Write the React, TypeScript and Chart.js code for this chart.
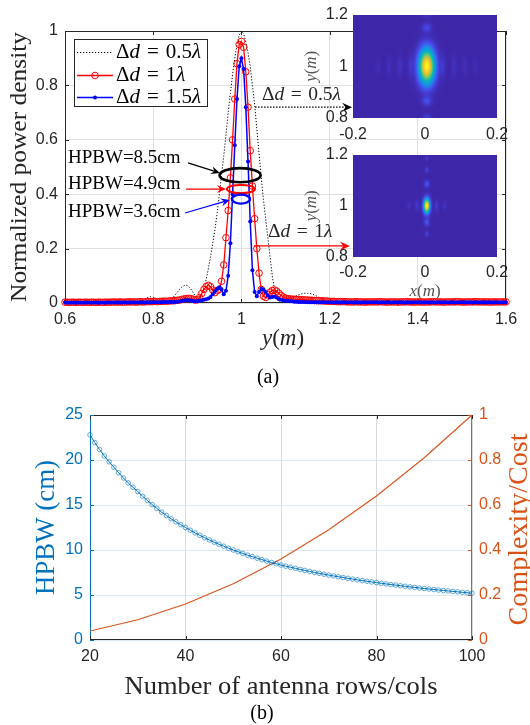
import { useEffect, useRef } from "react";
import { Chart, registerables } from "chart.js";

Chart.register(...registerables);

const SERIF = '"Liberation Serif","Times New Roman",Times,serif';
const SANS = '"Liberation Sans",Arial,Helvetica,sans-serif';
const INK = "#262626";
const BLUE_B = "rgb(0,114,189)";
const ORANGE_B = "rgb(217,83,25)";

// ---------------- (a) normalized power density vs y (m) ----------------
const yGrid: number[] = Array.from({ length: 201 }, (_, i) => Math.round((0.6 + i * 0.005) * 1000) / 1000);

const power05: number[] = [
  0.003, 0.002, 0.003, 0.004, 0.003, 0.002, 0.003, 0.004, 0.003, 0.002,
  0.003, 0.004, 0.003, 0.002, 0.004, 0.005, 0.004, 0.003, 0.004, 0.005,
  0.004, 0.003, 0.005, 0.006, 0.005, 0.003, 0.004, 0.006, 0.007, 0.005,
  0.004, 0.005, 0.006, 0.005, 0.004, 0.008, 0.013, 0.018, 0.022, 0.023,
  0.021, 0.016, 0.010, 0.005, 0.003, 0.002, 0.003, 0.006, 0.012, 0.020,
  0.030, 0.040, 0.050, 0.058, 0.064, 0.066, 0.062, 0.052, 0.040, 0.027,
  0.016, 0.014, 0.028, 0.050, 0.085, 0.125, 0.170, 0.220, 0.270, 0.330,
  0.400, 0.470, 0.540, 0.620, 0.700, 0.770, 0.840, 0.900, 0.950, 0.985,
  1.000, 0.990, 0.960, 0.920, 0.870, 0.800, 0.730, 0.640, 0.550, 0.460,
  0.380, 0.310, 0.240, 0.170, 0.100, 0.050, 0.015, 0.004, 0.003, 0.006,
  0.009, 0.012, 0.015, 0.019, 0.023, 0.027, 0.030, 0.033, 0.035, 0.036,
  0.036, 0.035, 0.033, 0.030, 0.026, 0.022, 0.018, 0.014, 0.010, 0.007,
  0.005, 0.004, 0.003, 0.003, 0.004, 0.005, 0.006, 0.006, 0.005, 0.004,
  0.003, 0.003, 0.004, 0.004, 0.003, 0.003, 0.003, 0.004, 0.004, 0.003,
  0.003, 0.002, 0.003, 0.003, 0.002, 0.003, 0.003, 0.002, 0.003, 0.003,
  0.003, 0.003, 0.002, 0.003, 0.003, 0.002, 0.003, 0.003, 0.002, 0.003,
  0.003, 0.002, 0.003, 0.003, 0.002, 0.003, 0.003, 0.002, 0.003, 0.003,
  0.003, 0.003, 0.002, 0.003, 0.003, 0.002, 0.003, 0.003, 0.002, 0.003,
  0.003, 0.002, 0.003, 0.003, 0.002, 0.003, 0.003, 0.002, 0.003, 0.003,
  0.003, 0.003, 0.002, 0.003, 0.003, 0.002, 0.003, 0.003, 0.002, 0.003,
  0.003,
];

const power10: number[] = [
  0.003, 0.003, 0.002, 0.003, 0.003, 0.002, 0.003, 0.003, 0.002, 0.003,
  0.003, 0.002, 0.003, 0.003, 0.002, 0.003, 0.003, 0.002, 0.003, 0.003,
  0.003, 0.003, 0.004, 0.003, 0.003, 0.004, 0.003, 0.003, 0.004, 0.004,
  0.004, 0.004, 0.003, 0.004, 0.005, 0.004, 0.004, 0.005, 0.005, 0.005,
  0.005, 0.006, 0.005, 0.006, 0.006, 0.007, 0.006, 0.007, 0.008, 0.008,
  0.009, 0.010, 0.011, 0.013, 0.015, 0.016, 0.017, 0.016, 0.014, 0.011,
  0.012, 0.020, 0.035, 0.050, 0.060, 0.065, 0.060, 0.048, 0.038, 0.045,
  0.050, 0.080, 0.140, 0.240, 0.340, 0.460, 0.600, 0.750, 0.880, 0.950,
  0.962, 0.940, 0.850, 0.720, 0.560, 0.430, 0.310, 0.200, 0.110, 0.050,
  0.025, 0.020, 0.030, 0.040, 0.046, 0.048, 0.044, 0.036, 0.028, 0.022,
  0.018, 0.016, 0.015, 0.014, 0.014, 0.013, 0.013, 0.012, 0.012, 0.011,
  0.011, 0.010, 0.010, 0.009, 0.009, 0.008, 0.008, 0.008, 0.007, 0.007,
  0.006, 0.006, 0.006, 0.005, 0.005, 0.005, 0.005, 0.005, 0.004, 0.004,
  0.004, 0.004, 0.005, 0.004, 0.004, 0.004, 0.003, 0.004, 0.004, 0.004,
  0.004, 0.004, 0.004, 0.005, 0.004, 0.004, 0.003, 0.004, 0.004, 0.004,
  0.004, 0.003, 0.004, 0.004, 0.004, 0.005, 0.004, 0.004, 0.003, 0.004,
  0.004, 0.004, 0.004, 0.003, 0.004, 0.004, 0.004, 0.005, 0.004, 0.004,
  0.004, 0.004, 0.003, 0.004, 0.004, 0.004, 0.004, 0.004, 0.005, 0.004,
  0.004, 0.003, 0.004, 0.004, 0.004, 0.004, 0.005, 0.004, 0.004, 0.004,
  0.004, 0.004, 0.004, 0.003, 0.004, 0.004, 0.004, 0.004, 0.004, 0.004,
  0.004,
];

const power15: number[] = [
  0.002, 0.002, 0.001, 0.002, 0.002, 0.001, 0.002, 0.002, 0.001, 0.002,
  0.002, 0.002, 0.001, 0.002, 0.002, 0.001, 0.002, 0.002, 0.001, 0.002,
  0.002, 0.002, 0.002, 0.002, 0.002, 0.002, 0.002, 0.003, 0.002, 0.002,
  0.002, 0.003, 0.002, 0.002, 0.003, 0.003, 0.002, 0.003, 0.003, 0.003,
  0.003, 0.003, 0.003, 0.003, 0.003, 0.004, 0.004, 0.004, 0.004, 0.004,
  0.004, 0.005, 0.006, 0.007, 0.009, 0.010, 0.010, 0.009, 0.007, 0.006,
  0.006, 0.008, 0.010, 0.012, 0.014, 0.017, 0.022, 0.032, 0.043, 0.052,
  0.058, 0.050, 0.032, 0.045, 0.100, 0.220, 0.400, 0.580, 0.750, 0.870,
  0.900, 0.860, 0.720, 0.520, 0.300, 0.120, 0.040, 0.025, 0.040, 0.052,
  0.050, 0.040, 0.028, 0.020, 0.022, 0.024, 0.020, 0.015, 0.012, 0.010,
  0.008, 0.007, 0.006, 0.006, 0.005, 0.005, 0.004, 0.004, 0.004, 0.004,
  0.003, 0.003, 0.003, 0.003, 0.003, 0.003, 0.003, 0.003, 0.003, 0.003,
  0.003, 0.003, 0.002, 0.003, 0.003, 0.002, 0.003, 0.003, 0.002, 0.003,
  0.003, 0.002, 0.003, 0.003, 0.002, 0.003, 0.003, 0.002, 0.003, 0.003,
  0.003, 0.003, 0.002, 0.003, 0.003, 0.002, 0.003, 0.003, 0.002, 0.003,
  0.003, 0.002, 0.003, 0.003, 0.002, 0.003, 0.003, 0.002, 0.003, 0.003,
  0.003, 0.003, 0.002, 0.003, 0.003, 0.002, 0.003, 0.003, 0.002, 0.003,
  0.003, 0.002, 0.003, 0.003, 0.002, 0.003, 0.003, 0.002, 0.003, 0.003,
  0.003, 0.003, 0.002, 0.003, 0.003, 0.002, 0.003, 0.003, 0.002, 0.003,
  0.003, 0.002, 0.003, 0.003, 0.002, 0.003, 0.003, 0.002, 0.003, 0.003,
  0.002,
];

const spacingLabels: string[] = ["0.5", "1", "1.5"];
const xTicksA: number[] = [0.6, 0.8, 1, 1.2, 1.4, 1.6];
const yTicksA: number[] = [0, 0.2, 0.4, 0.6, 0.8, 1];

// ---------------- inset beam-spot lobes (x, y in m) ----------------
const beam05X: number[] = [0.005, 0.005, 0.005, 0.005, 0.005, -0.04, 0.05, -0.07, 0.08, -0.1, 0.11, -0.13, 0.14];
const beam05Y: number[] = [1.0, 1.15, 0.865, 0.8, 1.2, 1.0, 1.0, 1.0, 1.0, 1.0, 1.0, 1.0, 1.0];
const beam05SX: number[] = [0.015, 0.009, 0.009, 0.008, 0.008, 0.005, 0.005, 0.005, 0.005, 0.005, 0.005, 0.005, 0.005];
const beam05SY: number[] = [0.045, 0.012, 0.012, 0.01, 0.008, 0.03, 0.03, 0.028, 0.028, 0.025, 0.025, 0.022, 0.022];
const beam05Amp: number[] = [1.0, 0.1, 0.11, 0.08, 0.05, 0.05, 0.05, 0.04, 0.04, 0.03, 0.03, 0.022, 0.022];

const beam10X: number[] = [0.005, 0.005, 0.005, 0.005, 0.005, 0.005, -0.022, 0.032, -0.045, 0.055];
const beam10Y: number[] = [1.0, 1.085, 0.935, 1.14, 0.89, 1.185, 1.0, 1.0, 1.0, 1.0];
const beam10SX: number[] = [0.006, 0.005, 0.005, 0.004, 0.004, 0.004, 0.004, 0.004, 0.004, 0.004];
const beam10SY: number[] = [0.019, 0.01, 0.01, 0.008, 0.008, 0.007, 0.015, 0.015, 0.012, 0.012];
const beam10Amp: number[] = [1.0, 0.13, 0.13, 0.08, 0.08, 0.05, 0.06, 0.06, 0.035, 0.035];

const insetXTicks: number[] = [-0.2, 0, 0.2];
const insetYTicks: number[] = [0.8, 1, 1.2];

// ---------------- (b) HPBW and complexity vs antenna rows/cols ----------------
const antennaN: number[] = Array.from({ length: 81 }, (_, i) => 20 + i);
const hpbwCm: number[] = [
  22.8, 21.94, 21.16, 20.45, 19.8, 19.2, 18.58, 18.0, 17.46, 16.97,
  16.5, 15.98, 15.5, 15.05, 14.62, 14.21, 13.83, 13.47, 13.13, 12.81,
  12.5, 12.2, 11.9, 11.63, 11.36, 11.11, 10.87, 10.64, 10.42, 10.2,
  10.0, 9.8, 9.62, 9.43, 9.26, 9.09, 8.93, 8.77, 8.62, 8.47,
  8.33, 8.2, 8.08, 7.96, 7.84, 7.73, 7.62, 7.51, 7.41, 7.31,
  7.21, 7.12, 7.03, 6.94, 6.85, 6.77, 6.68, 6.6, 6.53, 6.45,
  6.38, 6.3, 6.23, 6.16, 6.1, 6.03, 5.97, 5.9, 5.84, 5.78,
  5.72, 5.66, 5.61, 5.55, 5.5, 5.45, 5.4, 5.35, 5.3, 5.25,
  5.2,
];
const costN: number[] = [20, 30, 40, 50, 60, 70, 80, 90, 100];
const costValue: number[] = [0.04, 0.09, 0.16, 0.25, 0.36, 0.49, 0.64, 0.81, 1.0];
const xTicksB: number[] = [20, 40, 60, 80, 100];
const yTicksB: number[] = [0, 5, 10, 15, 20, 25];
const y1TicksB: number[] = [0, 0.2, 0.4, 0.6, 0.8, 1];

// ---------------- helpers ----------------
type Part = { t?: string; it?: boolean; gap?: number };

const fmt = (v: any) => String(Math.round(Number(v) * 100) / 100);
const tickSet = (vals: number[]) => (s: any) => {
  s.ticks = vals.map((v) => ({ value: v }));
};

function partFont(p: Part, size: number) {
  return `${p.it ? "italic " : ""}${size}px ${SERIF}`;
}

function drawParts(ctx: any, parts: Part[], x: number, y: number, size: number, color: string, opt: any = {}) {
  const align = opt.align || "left";
  const baseline = opt.baseline || "middle";
  ctx.save();
  ctx.translate(x, y);
  if (opt.rotate) ctx.rotate(-Math.PI / 2);
  const ws = parts.map((p) => {
    if (p.gap) return p.gap * size;
    ctx.font = partFont(p, size);
    return ctx.measureText(p.t).width;
  });
  const w = ws.reduce((a: number, b: number) => a + b, 0);
  if (opt.width) ctx.scale(opt.width / w, 1);
  let cx = align === "center" ? -w / 2 : align === "right" ? -w : 0;
  ctx.fillStyle = color;
  ctx.textBaseline = baseline;
  ctx.textAlign = "left";
  parts.forEach((p, i) => {
    if (!p.gap) {
      ctx.font = partFont(p, size);
      ctx.fillText(p.t, cx, 0);
    }
    cx += ws[i];
  });
  ctx.restore();
}

const mathParts = (v: string): Part[] => [
  { t: "Δ" },
  { t: "d", it: true },
  { gap: 0.33 },
  { t: "=" },
  { gap: 0.33 },
  { t: v },
  { t: "λ", it: true },
];

function arrow(ctx: any, x0: number, y0: number, x1: number, y1: number, color: string, lw: number, dash: number[] | null, head = 9, halfW = 4) {
  const ang = Math.atan2(y1 - y0, x1 - x0);
  const c = Math.cos(ang);
  const s = Math.sin(ang);
  const pt = (a: number, b: number) => [x1 + c * a - s * b, y1 + s * a + c * b];
  ctx.save();
  ctx.strokeStyle = color;
  ctx.lineWidth = lw;
  ctx.setLineDash(dash || []);
  ctx.beginPath();
  ctx.moveTo(x0, y0);
  const e = pt(-head * 0.6, 0);
  ctx.lineTo(e[0], e[1]);
  ctx.stroke();
  ctx.setLineDash([]);
  ctx.fillStyle = color;
  ctx.beginPath();
  ctx.moveTo(x1, y1);
  let p = pt(-head, halfW);
  ctx.lineTo(p[0], p[1]);
  p = pt(-head * 0.65, 0);
  ctx.lineTo(p[0], p[1]);
  p = pt(-head, -halfW);
  ctx.lineTo(p[0], p[1]);
  ctx.closePath();
  ctx.fill();
  ctx.restore();
}

const hpbwNotes = [
  { text: "HPBW=8.5cm", color: "#000000", at: [0.6068, 0.533], from: [0.879, 0.515], to: [0.9515, 0.478], ring: [0.997, 0.47, 0.0465, 0.026], ringW: 2.6 },
  { text: "HPBW=4.9cm", color: "#ff0000", at: [0.6068, 0.4375], from: [0.8744, 0.419], to: [0.965, 0.419], ring: [0.999, 0.419, 0.032, 0.015], ringW: 2 },
  { text: "HPBW=3.6cm", color: "#0000ff", at: [0.6068, 0.335], from: [0.872, 0.331], to: [0.974, 0.379], ring: [0.999, 0.382, 0.0205, 0.0165], ringW: 2.4 },
];

const lambdaNotes = [
  { val: "0.5", color: "#000000", at: [1.0467, 0.765], from: [1.031, 0.72], to: [1.251, 0.72], dash: [1.5, 1.5] },
  { val: "1", color: "#ff0000", at: [1.0603, 0.261], from: [1.0286, 0.21], to: [1.246, 0.21], dash: null },
];

function frame(ctx: any, a: any, colors: { top: string; bottom: string; left: string; right: string }) {
  const L = Math.round(a.left) + 0.5;
  const R = Math.round(a.right) - 0.5;
  const T = Math.round(a.top) + 0.5;
  const B = Math.round(a.bottom) - 0.5;
  ctx.save();
  ctx.lineWidth = 1;
  const seg = (c: string, x0: number, y0: number, x1: number, y1: number) => {
    ctx.strokeStyle = c;
    ctx.beginPath();
    ctx.moveTo(x0, y0);
    ctx.lineTo(x1, y1);
    ctx.stroke();
  };
  seg(colors.top, L - 0.5, T, R + 0.5, T);
  seg(colors.bottom, L - 0.5, B, R + 0.5, B);
  seg(colors.left, L, T, L, B);
  seg(colors.right, R, T, R, B);
  ctx.restore();
  return { L, R, T, B };
}

function inwardTicks(ctx: any, a: any, scale: any, vals: number[], horizontal: boolean, len: number, colorA: string, colorB: string) {
  ctx.save();
  ctx.lineWidth = 1;
  vals.forEach((v) => {
    const p = Math.round(scale.getPixelForValue(v)) + 0.5;
    if (horizontal) {
      ctx.strokeStyle = colorA;
      ctx.beginPath();
      ctx.moveTo(p, a.bottom);
      ctx.lineTo(p, a.bottom - len);
      ctx.stroke();
      ctx.strokeStyle = colorB;
      ctx.beginPath();
      ctx.moveTo(p, a.top);
      ctx.lineTo(p, a.top + len);
      ctx.stroke();
    } else {
      ctx.strokeStyle = colorA;
      ctx.beginPath();
      ctx.moveTo(a.left, p);
      ctx.lineTo(a.left + len, p);
      ctx.stroke();
      ctx.strokeStyle = colorB;
      ctx.beginPath();
      ctx.moveTo(a.right, p);
      ctx.lineTo(a.right - len, p);
      ctx.stroke();
    }
  });
  ctx.restore();
}

// ---------------- plugins ----------------
const decorA = {
  id: "decorA",
  beforeDatasetsDraw(chart: any) {
    const { ctx, chartArea: a, scales } = chart;
    frame(ctx, a, { top: INK, bottom: INK, left: INK, right: INK });
    inwardTicks(ctx, a, scales.x, xTicksA, true, 4, INK, INK);
    inwardTicks(ctx, a, scales.y, yTicksA, false, 4, INK, INK);
  },
  afterDatasetsDraw(chart: any) {
    const { ctx, chartArea: a, scales } = chart;
    const X = (v: number) => scales.x.getPixelForValue(v);
    const Y = (v: number) => scales.y.getPixelForValue(v);

    // HPBW annotations
    hpbwNotes.forEach((n) => {
      drawParts(ctx, [{ t: n.text }], X(n.at[0]), Y(n.at[1]), 19, "#000", { baseline: "middle" });
      arrow(ctx, X(n.from[0]), Y(n.from[1]), X(n.to[0]), Y(n.to[1]), n.color, 1.2, null, 9, 4);
      const cx = X(n.ring[0]);
      const cy = Y(n.ring[1]);
      const rx = Math.abs(X(n.ring[0] + n.ring[2]) - cx);
      const ry = Math.abs(Y(n.ring[1] + n.ring[3]) - cy);
      ctx.save();
      ctx.strokeStyle = n.color;
      ctx.lineWidth = n.ringW;
      ctx.beginPath();
      ctx.ellipse(cx, cy, rx, ry, 0, 0, Math.PI * 2);
      ctx.stroke();
      ctx.restore();
    });

    // spacing annotations pointing to insets
    lambdaNotes.forEach((n) => {
      drawParts(ctx, mathParts(n.val), X(n.at[0]), Y(n.at[1]), 19.5, INK, { baseline: "middle" });
      arrow(ctx, X(n.from[0]), Y(n.from[1]), X(n.to[0]), Y(n.to[1]), n.color, 1.1, n.dash, 10, 4.5);
    });

    // legend
    const L = a.left + 9;
    const T = a.top + 8;
    const W = 133;
    const H = 67;
    ctx.save();
    ctx.fillStyle = "#fff";
    ctx.fillRect(L, T, W, H);
    ctx.strokeStyle = INK;
    ctx.lineWidth = 1;
    ctx.strokeRect(Math.round(L) + 0.5, Math.round(T) + 0.5, W, H);
    const rows = [13, 36, 58];
    chart.data.datasets.forEach((ds: any, i: number) => {
      const yy = Math.round(T + rows[i]) + 0.5;
      ctx.strokeStyle = ds.borderColor;
      ctx.lineWidth = ds.borderWidth;
      ctx.setLineDash(ds.borderDash || []);
      ctx.beginPath();
      ctx.moveTo(L + 3, yy);
      ctx.lineTo(L + 39, yy);
      ctx.stroke();
      ctx.setLineDash([]);
      if (ds.pointRadius > 0) {
        ctx.beginPath();
        ctx.arc(L + 21, yy, ds.pointRadius, 0, Math.PI * 2);
        if (ds.pointBorderWidth > 0) {
          ctx.strokeStyle = ds.pointBorderColor;
          ctx.lineWidth = ds.pointBorderWidth;
          ctx.stroke();
        } else {
          ctx.fillStyle = ds.pointBackgroundColor;
          ctx.fill();
        }
      }
      drawParts(ctx, mathParts(ds.label), L + 42, yy, 21, "#000", { baseline: "middle" });
    });
    ctx.restore();
  },
  afterDraw(chart: any) {
    const { ctx, chartArea: a } = chart;
    drawParts(ctx, [{ t: "Normalized power density" }], 25.5, (a.top + a.bottom) / 2, 23, INK, {
      rotate: true,
      align: "center",
      baseline: "alphabetic",
      width: 270,
    });
    drawParts(ctx, [{ t: "y", it: true }, { t: "(" }, { t: "m", it: true }, { t: ")" }], 283, 345, 23, INK, {
      align: "center",
      baseline: "alphabetic",
    });
    drawParts(ctx, [{ t: "(a)" }], 268, 378, 20, "#000", { align: "center", baseline: "middle" });
  },
};

const PARULA: number[][] = [
  [62, 38, 168],
  [70, 75, 235],
  [35, 130, 235],
  [13, 160, 215],
  [8, 180, 188],
  [66, 195, 135],
  [140, 201, 92],
  [222, 189, 48],
  [253, 204, 48],
  [249, 251, 14],
];

function parula(v: number) {
  const t = Math.max(0, Math.min(1, v)) * (PARULA.length - 1);
  const i = Math.min(PARULA.length - 2, Math.floor(t));
  const f = t - i;
  return [0, 1, 2].map((k) => PARULA[i][k] + (PARULA[i + 1][k] - PARULA[i][k]) * f);
}

function heatPlugin(lx: number[], ly: number[], sx: number[], sy: number[], amp: number[], showX: boolean) {
  return {
    id: "heat",
    beforeDatasetsDraw(chart: any) {
      const { ctx, chartArea: a, scales } = chart;
      const L = Math.round(a.left);
      const T = Math.round(a.top);
      const W = Math.round(a.right) - L;
      const H = Math.round(a.bottom) - T;
      const img = ctx.createImageData(W, H);
      for (let j = 0; j < H; j++) {
        const yv = scales.y.getValueForPixel(T + j + 0.5);
        for (let i = 0; i < W; i++) {
          const xv = scales.x.getValueForPixel(L + i + 0.5);
          let v = 0;
          for (let k = 0; k < lx.length; k++) {
            const dx = (xv - lx[k]) / sx[k];
            const dy = (yv - ly[k]) / sy[k];
            v += amp[k] * Math.exp(-0.5 * (dx * dx + dy * dy));
          }
          const c = parula(v);
          const idx = (j * W + i) * 4;
          img.data[idx] = c[0];
          img.data[idx + 1] = c[1];
          img.data[idx + 2] = c[2];
          img.data[idx + 3] = 255;
        }
      }
      ctx.putImageData(img, L, T);
    },
    afterDraw(chart: any) {
      const { ctx, chartArea: a } = chart;
      drawParts(ctx, [{ t: "y", it: true }, { t: "(" }, { t: "m", it: true }, { t: ")" }], a.left - 41, (a.top + a.bottom) / 2, 17, "#555", {
        rotate: true,
        align: "center",
        baseline: "middle",
      });
      if (showX) {
        drawParts(ctx, [{ t: "x", it: true }, { t: "(" }, { t: "m", it: true }, { t: ")" }], (a.left + a.right) / 2, a.bottom + 35, 17, "#555", {
          align: "center",
          baseline: "middle",
        });
      }
    },
  };
}

const decorB = {
  id: "decorB",
  beforeDatasetsDraw(chart: any) {
    const { ctx, chartArea: a, scales } = chart;
    frame(ctx, a, { top: INK, bottom: INK, left: BLUE_B, right: ORANGE_B });
    inwardTicks(ctx, a, scales.x, xTicksB, true, 4, INK, INK);
    inwardTicks(ctx, a, scales.y, yTicksB, false, 4, BLUE_B, "rgba(0,0,0,0)");
    inwardTicks(ctx, a, scales.y1, y1TicksB, false, 4, "rgba(0,0,0,0)", ORANGE_B);
  },
  afterDraw(chart: any) {
    const { ctx, chartArea: a } = chart;
    drawParts(ctx, [{ t: "HPBW (cm)" }], 54, (a.top + a.bottom) / 2, 27, BLUE_B, {
      rotate: true,
      align: "center",
      baseline: "alphabetic",
      width: 135,
    });
    drawParts(ctx, [{ t: "Complexity/Cost" }], 527, (a.top + a.bottom) / 2 + 2, 27, ORANGE_B, {
      rotate: true,
      align: "center",
      baseline: "alphabetic",
      width: 192,
    });
    drawParts(ctx, [{ t: "Number of antenna rows/cols" }], (a.left + a.right) / 2, 304, 26, INK, {
      align: "center",
      baseline: "alphabetic",
      width: 313,
    });
    drawParts(ctx, [{ t: "(b)" }], 262, 324, 20, "#000", { align: "center", baseline: "middle" });
  },
};

// ---------------- configs ----------------
function mainConfig(): any {
  const pts = (vals: number[]) => vals.map((v, i) => ({ x: yGrid[i], y: v }));
  return {
    type: "line",
    data: {
      datasets: [
        {
          label: spacingLabels[0],
          data: pts(power05),
          borderColor: "#000000",
          borderWidth: 1,
          borderDash: [1.2, 1.8],
          pointRadius: 0,
          order: 3,
          clip: false,
        },
        {
          label: spacingLabels[1],
          data: pts(power10),
          borderColor: "#ff0000",
          borderWidth: 1.3,
          pointRadius: 3.3,
          pointBorderColor: "#ff0000",
          pointBackgroundColor: "rgba(0,0,0,0)",
          pointBorderWidth: 1,
          order: 2,
          clip: false,
        },
        {
          label: spacingLabels[2],
          data: pts(power15),
          borderColor: "#0000ff",
          borderWidth: 1.5,
          pointRadius: 2,
          pointBorderColor: "#0000ff",
          pointBackgroundColor: "#0000ff",
          pointBorderWidth: 0,
          order: 1,
          clip: false,
        },
      ],
    },
    options: {
      animation: false,
      responsive: false,
      events: [],
      layout: { padding: { top: 31, right: 24, left: 0, bottom: 0 } },
      plugins: { legend: { display: false }, tooltip: { enabled: false } },
      elements: { line: { tension: 0 } },
      scales: {
        x: {
          type: "linear",
          min: 0.6,
          max: 1.6,
          afterBuildTicks: tickSet(xTicksA),
          afterFit: (s: any) => {
            s.height = 87;
          },
          grid: { color: "#e0e0e0", drawTicks: false },
          border: { display: false },
          ticks: { padding: 7, color: INK, font: { family: SANS, size: 16 }, callback: fmt, maxRotation: 0, autoSkip: false },
        },
        y: {
          type: "linear",
          min: 0,
          max: 1,
          afterBuildTicks: tickSet(yTicksA),
          afterFit: (s: any) => {
            s.width = 65;
          },
          grid: { color: "#e0e0e0", drawTicks: false },
          border: { display: false },
          ticks: { padding: 7, color: INK, font: { family: SANS, size: 16 }, callback: fmt },
        },
      },
    },
    plugins: [decorA],
  };
}

function insetConfig(lx: number[], ly: number[], sx: number[], sy: number[], amp: number[], padTop: number, xHeight: number, tickPad: number, showX: boolean): any {
  return {
    type: "scatter",
    data: { datasets: [{ data: lx.map((x, i) => ({ x, y: ly[i] })), pointRadius: 0 }] },
    options: {
      animation: false,
      responsive: false,
      events: [],
      layout: { padding: { top: padTop, right: 23, left: 0, bottom: 0 } },
      plugins: { legend: { display: false }, tooltip: { enabled: false } },
      scales: {
        x: {
          type: "linear",
          min: -0.2,
          max: 0.2,
          afterBuildTicks: tickSet(insetXTicks),
          afterFit: (s: any) => {
            s.height = xHeight;
          },
          grid: { display: false, drawTicks: false },
          border: { display: false },
          ticks: { padding: tickPad, color: INK, font: { family: SANS, size: 16 }, callback: fmt, maxRotation: 0, autoSkip: false },
        },
        y: {
          type: "linear",
          min: 0.8,
          max: 1.2,
          afterBuildTicks: tickSet(insetYTicks),
          afterFit: (s: any) => {
            s.width = 63;
          },
          grid: { display: false, drawTicks: false },
          border: { display: false },
          ticks: { padding: 5, color: INK, font: { family: SANS, size: 16 }, callback: fmt },
        },
      },
    },
    plugins: [heatPlugin(lx, ly, sx, sy, amp, showX)],
  };
}

function bottomConfig(): any {
  return {
    type: "line",
    data: {
      datasets: [
        {
          label: "HPBW (cm)",
          data: antennaN.map((n, i) => ({ x: n, y: hpbwCm[i] })),
          yAxisID: "y",
          borderColor: BLUE_B,
          borderWidth: 1,
          pointRadius: 2.3,
          pointBorderColor: "rgba(0,114,189,0.75)",
          pointBackgroundColor: "rgba(0,0,0,0)",
          pointBorderWidth: 0.8,
          clip: false,
        },
        {
          label: "Complexity/Cost",
          data: costN.map((n, i) => ({ x: n, y: costValue[i] })),
          yAxisID: "y1",
          borderColor: ORANGE_B,
          borderWidth: 1.1,
          pointRadius: 0,
          clip: false,
        },
      ],
    },
    options: {
      animation: false,
      responsive: false,
      events: [],
      layout: { padding: { top: 25, right: 0, left: 0, bottom: 0 } },
      plugins: { legend: { display: false }, tooltip: { enabled: false } },
      elements: { line: { tension: 0 } },
      scales: {
        x: {
          type: "linear",
          min: 20,
          max: 100,
          afterBuildTicks: tickSet(xTicksB),
          afterFit: (s: any) => {
            s.height = 85;
          },
          grid: { color: "#dcdcdc", drawTicks: false },
          border: { display: false },
          ticks: { padding: 7, color: INK, font: { family: SANS, size: 16 }, callback: fmt, maxRotation: 0, autoSkip: false },
        },
        y: {
          type: "linear",
          position: "left",
          min: 0,
          max: 25,
          afterBuildTicks: tickSet(yTicksB),
          afterFit: (s: any) => {
            s.width = 90;
          },
          grid: { color: "rgb(217,234,245)", drawTicks: false },
          border: { display: false },
          ticks: { padding: 7, color: BLUE_B, font: { family: SANS, size: 16 }, callback: fmt },
        },
        y1: {
          type: "linear",
          position: "right",
          min: 0,
          max: 1,
          afterBuildTicks: tickSet(y1TicksB),
          afterFit: (s: any) => {
            s.width = 58;
          },
          grid: { display: false, drawTicks: false },
          border: { display: false },
          ticks: { padding: 7, color: ORANGE_B, font: { family: SANS, size: 16 }, callback: fmt },
        },
      },
    },
    plugins: [decorB],
  };
}

export default function App() {
  const mainRef = useRef<HTMLCanvasElement>(null);
  const in1Ref = useRef<HTMLCanvasElement>(null);
  const in2Ref = useRef<HTMLCanvasElement>(null);
  const botRef = useRef<HTMLCanvasElement>(null);

  useEffect(() => {
    const charts: Chart[] = [
      new Chart(mainRef.current as any, mainConfig()),
      new Chart(botRef.current as any, bottomConfig()),
      new Chart(in1Ref.current as any, insetConfig(beam05X, beam05Y, beam05SX, beam05SY, beam05Amp, 9, 27, 7, false)),
      new Chart(in2Ref.current as any, insetConfig(beam10X, beam10Y, beam10SX, beam10SY, beam10Amp, 7, 43, 6, true)),
    ];
    return () => charts.forEach((c) => c.destroy());
  }, []);

  return (
    <div style={{ position: "absolute", left: 0, top: 0, width: 530, height: 725, background: "#fff", overflow: "hidden" }}>
      <canvas ref={mainRef} width={530} height={390} style={{ position: "absolute", left: 0, top: 0 }} />
      <canvas ref={in1Ref} width={230} height={145} style={{ position: "absolute", left: 290, top: 0 }} />
      <canvas ref={in2Ref} width={230} height={160} style={{ position: "absolute", left: 290, top: 140 }} />
      <canvas ref={botRef} width={530} height={335} style={{ position: "absolute", left: 0, top: 390 }} />
    </div>
  );
}
